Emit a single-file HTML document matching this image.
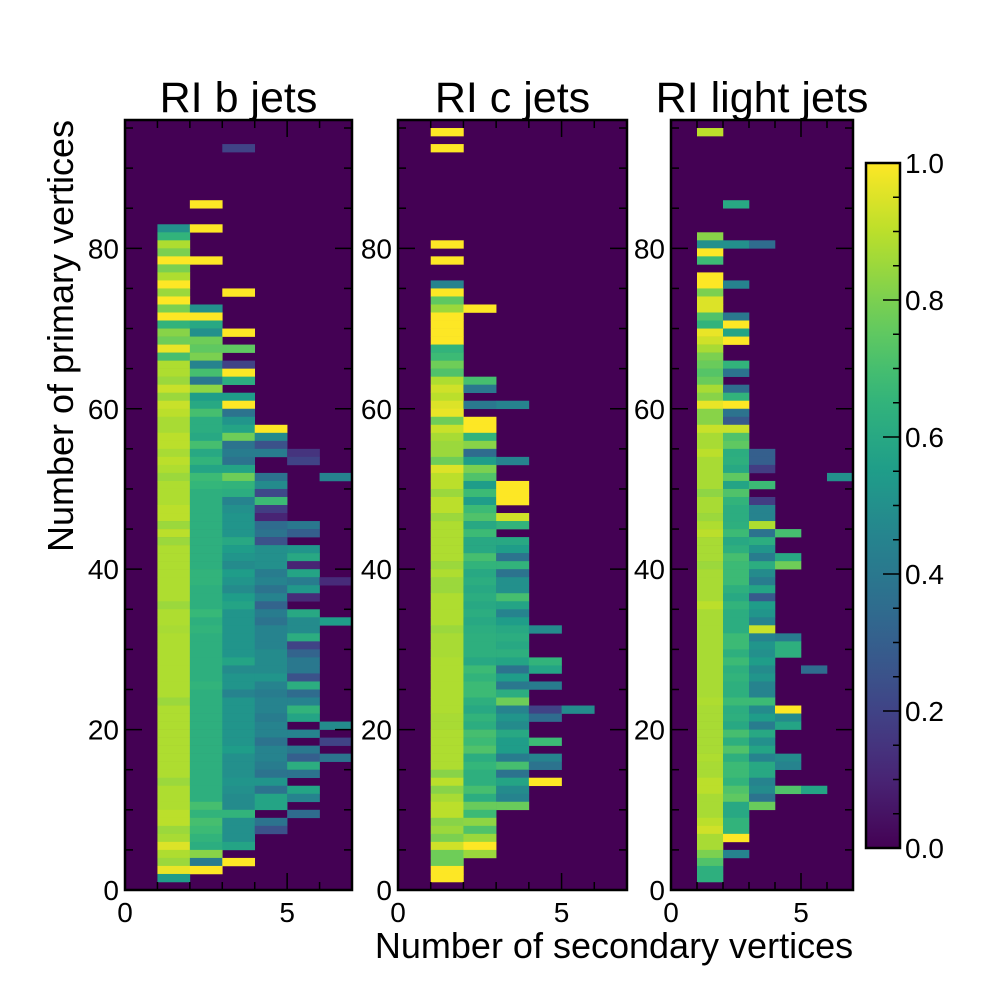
<!DOCTYPE html>
<html><head><meta charset="utf-8"><style>
html,body{margin:0;padding:0;background:#fff;}
svg text{font-family:"Liberation Sans",Arial,sans-serif;fill:#000;}
</style></head><body>
<svg id="chart" width="1000" height="1000" viewBox="0 0 1000 1000" xmlns="http://www.w3.org/2000/svg">
<rect width="1000" height="1000" fill="#fff"/>
<g id="layer"></g>
<text x="0" y="0" transform="translate(73,336) rotate(-90)" text-anchor="middle" font-size="36">Number of primary vertices</text>
<text x="614" y="958" text-anchor="middle" font-size="36">Number of secondary vertices</text>
</svg>
<script>
// ---- data: rows of [primaryVertices, [values for secondary-vertex bins 1..6]] ----
const bRows = [
[92,[0,0,0.2]],[85,[0,1]],[82,[0.5,1]],[81,[0.65]],[80,[0.88]],[79,[0.8]],[78,[1,1]],[77,[0.8]],[76,[0.88]],[75,[1]],
[74,[0.85,0,1]],[73,[1]],[72,[0.8,0.5]],[71,[1,1]],[70,[0.65,0.6]],[69,[0.82,0.5,1]],[68,[0.78,0.78]],[67,[0.97,0.75,0.75]],
[66,[0.7,0.8]],[65,[0.88,0.45,0.2]],[64,[0.88,0.7,1]],[63,[0.85,0.4,0.62]],[62,[0.92,0.83]],[61,[0.85,0.55,0.55]],
[60,[0.92,0.6,1]],[59,[0.9,0.7,0.38]],[58,[0.87,0.62,0.52]],[57,[0.87,0.62,0.58,1]],[56,[0.9,0.6,0.78,0.48]],
[55,[0.9,0.7,0.38,0.25]],[54,[0.87,0.6,0.42,0.42,0.15]],[53,[0.9,0.65,0.38,0,0.2]],[52,[0.88,0.58,0.58]],
[51,[0.85,0.68,0.78,0.38,0,0.45]],[50,[0.88,0.66,0.65,0.48]],[49,[0.88,0.63,0.62,0.22]],[48,[0.88,0.63,0.45,0.68]],
[47,[0.9,0.63,0.5,0.18]],[46,[0.9,0.63,0.52,0.1]],[45,[0.85,0.63,0.52,0.35,0.4]],[44,[0.9,0.63,0.52,0.38,0.3]],
[43,[0.85,0.63,0.6,0.25]],[42,[0.88,0.63,0.55,0.5,0.52]],[41,[0.88,0.63,0.52,0.5,0.6]],[40,[0.88,0.63,0.48,0.5,0.1]],
[39,[0.88,0.65,0.55,0.42,0.58]],[38,[0.88,0.65,0.52,0.45,0.42,0.12]],[37,[0.88,0.63,0.48,0.38,0.53]],
[36,[0.88,0.63,0.55,0.45,0.12]],[35,[0.85,0.63,0.58,0.32]],[34,[0.88,0.67,0.52,0.42,0.6]],[33,[0.88,0.63,0.52,0.38,0.48,0.55]],
[32,[0.87,0.65,0.52,0.45,0.48]],[31,[0.88,0.63,0.52,0.45,0.62]],[30,[0.88,0.63,0.52,0.45,0.2]],[29,[0.88,0.63,0.52,0.48,0.32]],
[28,[0.88,0.63,0.58,0.48,0.4]],[27,[0.88,0.63,0.48,0.48,0.4]],[26,[0.88,0.63,0.52,0.52,0.25]],[25,[0.88,0.65,0.52,0.45,0.62]],
[24,[0.88,0.63,0.45,0.42,0.35]],[23,[0.85,0.63,0.52,0.45,0.45]],[22,[0.88,0.63,0.52,0.45,0.65]],[21,[0.88,0.63,0.52,0.42,0.58]],
[20,[0.88,0.63,0.52,0.45,0,0.48]],[19,[0.88,0.63,0.52,0.45,0.45]],[18,[0.88,0.63,0.52,0.38,0,0.2]],[17,[0.88,0.63,0.55,0.45,0.4]],
[16,[0.88,0.63,0.5,0.45,0.3,0.38]],[15,[0.88,0.63,0.5,0.42,0.62]],[14,[0.88,0.63,0.5,0.38,0.38]],[13,[0.85,0.63,0.52,0.52]],
[12,[0.88,0.63,0.5,0.38,0.58]],[11,[0.88,0.63,0.48,0.58,0.45]],[10,[0.88,0.7,0.48,0.58]],[9,[0.9,0.65,0.65,0,0.35]],
[8,[0.9,0.7,0.5,0.38]],[7,[0.85,0.68,0.5,0.25]],[6,[0.87,0.65,0.5]],[5,[0.95,0.62,0.58]],[4,[0.88,0.82]],[3,[0.85,0.42,1]],
[2,[0.97,1]],[1,[0.55]]
];
const cRows = [
[94,[1]],[92,[1]],[80,[1]],[78,[1]],[75,[0.45]],[74,[1]],[73,[0.75]],[72,[0.85,1]],[71,[1]],[70,[1]],[69,[1]],[68,[1]],
[67,[0.65]],[66,[0.68]],[65,[0.78]],[64,[0.72]],[63,[0.88,0.7]],[62,[0.93,0.4]],[61,[0.9]],[60,[0.95,0.4,0.45]],[59,[0.97]],
[58,[0.78,1]],[57,[0.92,1]],[56,[0.87,0.65]],[55,[0.85,0.82]],[54,[0.85,0.35]],[53,[0.78,0.55,0.45]],[52,[0.95,0.8]],
[51,[0.9,0.72]],[50,[0.9,0.55,1]],[49,[0.85,0.68,1]],[48,[0.9,0.55,1]],[47,[0.9,0.68]],[46,[0.85,0.72,0.93]],
[45,[0.88,0.6,0.65]],[44,[0.88,0.68]],[43,[0.88,0.6,0.6]],[42,[0.88,0.6,0.55]],[41,[0.88,0.7,0.38]],[40,[0.85,0.65,0.65]],
[39,[0.88,0.6,0.38]],[38,[0.85,0.62,0.5]],[37,[0.85,0.6,0.5]],[36,[0.88,0.62,0.7]],[35,[0.88,0.6,0.58]],[34,[0.88,0.62,0.45]],
[33,[0.88,0.6,0.55]],[32,[0.85,0.62,0.6,0.48]],[31,[0.87,0.63,0.62]],[30,[0.87,0.63,0.6]],[29,[0.87,0.63,0.63]],
[28,[0.88,0.6,0.58,0.65]],[27,[0.88,0.68,0.38,0.58]],[26,[0.88,0.65,0.55]],[25,[0.88,0.68,0.4,0.42]],[24,[0.88,0.68,0.62]],
[23,[0.88,0.63,0.78]],[22,[0.88,0.6,0.45,0.2,0.48]],[21,[0.87,0.65,0.52,0.35]],[20,[0.87,0.62,0.48]],[19,[0.88,0.7,0.6]],
[18,[0.88,0.68,0.55,0.68]],[17,[0.88,0.72,0.55]],[16,[0.88,0.62,0.42,0.45]],[15,[0.88,0.66,0.7,0.38]],[14,[0.82,0.63,0.38]],
[13,[0.9,0.63,0.58,1]],[12,[0.82,0.7,0.48]],[11,[0.87,0.62,0.45]],[10,[0.9,0.77,0.77]],[9,[0.9,0.68]],[8,[0.82,0.83]],
[7,[0.85,0.72]],[6,[0.8,0.85]],[5,[0.93,1]],[4,[0.78,0.85]],[3,[0.78]],[2,[1]],[1,[1]]
];
const lRows = [
[94,[0.9]],[85,[0,0.6]],[81,[0.82]],[80,[0.5,0.5,0.35]],[79,[1]],[78,[0.68]],[76,[1]],[75,[1,0.45]],[74,[0.8]],[73,[0.95]],
[72,[0.95]],[71,[0.72,0.4]],[70,[0.65,1]],[69,[0.97,0.58]],[68,[0.93,1]],[67,[0.87]],[66,[0.8]],[65,[0.77,0.65]],
[64,[0.73,0.38]],[63,[0.77]],[62,[0.87,0.35]],[61,[0.82,0.65]],[60,[0.97,1]],[59,[0.82,0.38]],[58,[0.82,0.28]],
[57,[0.92,0.92]],[56,[0.87,0.72]],[55,[0.87,0.75]],[54,[0.9,0.62,0.3]],[53,[0.87,0.63,0.3]],[52,[0.87,0.6,0.18]],
[51,[0.87,0.75,0,0,0,0.5]],[50,[0.87,0.58,0.68]],[49,[0.83,0.72]],[48,[0.87,0.65,0.18]],[47,[0.87,0.62,0.45]],
[46,[0.85,0.62,0.45]],[45,[0.88,0.63,0.88]],[44,[0.9,0.68,0.38,0.7]],[43,[0.87,0.6,0.62]],[42,[0.87,0.63,0.52]],
[41,[0.87,0.7,0.42,0.6]],[40,[0.85,0.68,0.62,0.78]],[39,[0.87,0.68,0.48]],[38,[0.87,0.68,0.42]],[37,[0.87,0.63,0.58]],
[36,[0.87,0.6,0.28]],[35,[0.9,0.65,0.55]],[34,[0.87,0.62,0.52]],[33,[0.87,0.62,0.45]],[32,[0.87,0.62,0.92]],
[31,[0.87,0.68,0.45,0.42]],[30,[0.87,0.68,0.52,0.63]],[29,[0.87,0.63,0.5,0.63]],[28,[0.87,0.68,0.55]],
[27,[0.87,0.63,0.48,0,0.35]],[26,[0.87,0.65,0.52]],[25,[0.87,0.63,0.45]],[24,[0.87,0.63,0.45]],[23,[0.88,0.68,0.68]],
[22,[0.87,0.62,0.48,1]],[21,[0.87,0.63,0.55,0.48]],[20,[0.87,0.6,0.42,0.58]],[19,[0.87,0.7,0.6]],[18,[0.87,0.63,0.5]],
[17,[0.87,0.72,0.58]],[16,[0.88,0.63,0.45,0.48]],[15,[0.87,0.68,0.6,0.45]],[14,[0.87,0.68,0.6]],[13,[0.9,0.65,0.45]],
[12,[0.9,0.72,0.48,0.72,0.58]],[11,[0.87,0.75,0.38]],[10,[0.87,0.6,0.77]],[9,[0.87,0.6]],[8,[0.9,0.65]],[7,[0.93,0.65]],
[6,[0.87,1]],[5,[0.87]],[4,[0.8,0.45]],[3,[0.72]],[2,[0.63]],[1,[0.63]]
];
const panelTitles = ["RI b jets","RI c jets","RI light jets"];
const xTicks = [0,5];
const yTicks = [0,20,40,60,80];
const cbTicks = [0,0.2,0.4,0.6,0.8,1.0];
const cbTickLabels = ["0.0","0.2","0.4","0.6","0.8","1.0"];

const NS="http://www.w3.org/2000/svg";
const layer=document.getElementById('layer');
function mk(tag,attrs,parent){const e=document.createElementNS(NS,tag);for(const k in attrs)e.setAttribute(k,attrs[k]);(parent||layer).appendChild(e);return e;}
const VIR=[[68,1,84],[72,40,120],[62,74,137],[49,104,142],[38,130,142],[31,158,137],[53,183,121],[109,205,89],[180,222,44],[253,231,37]];
function viridis(v){v=Math.max(0,Math.min(1,v));const p=v*(VIR.length-1);const i=Math.min(Math.floor(p),VIR.length-2);const f=p-i;
 const c=VIR[i].map((a,j)=>Math.round(a+(VIR[i+1][j]-a)*f));return `rgb(${c[0]},${c[1]},${c[2]})`;}

const Y0=890,Y1=120,YMAX=96,XMAX=7;
function ys(v){return Y0-(v/YMAX)*(Y0-Y1);}
const panels=[{x0:125,x1:352,rows:bRows,name:'b'},{x0:398,x1:627,rows:cRows,name:'c'},{x0:671,x1:853,rows:lRows,name:'light'}];
panels.forEach((p,pi)=>{
 const xs=v=>p.x0+(v/XMAX)*(p.x1-p.x0);
 const g=mk('g',{});
 
 
 const bg=mk('rect',{x:p.x0,y:Y1,width:p.x1-p.x0,height:Y0-Y1,fill:viridis(0)},g);
 
 
 p.rows.forEach(r=>{const y=r[0];r[1].forEach((v,i)=>{if(!v)return;const xb=i+1;
  const c=mk('rect',{x:xs(xb),y:ys(y+1),width:xs(xb+1)-xs(xb)+0.3,height:ys(y)-ys(y+1)+0.3,fill:viridis(v)},g);
  
  
 });});
 for(let t=0;t<=XMAX;t++){const L=(t%5===0)?17:8;const x=xs(t);
  mk('line',{x1:x,x2:x,y1:Y0,y2:Y0-L,stroke:'#000','stroke-width':1.5},g);
  mk('line',{x1:x,x2:x,y1:Y1,y2:Y1+L,stroke:'#000','stroke-width':1.5},g);}
 for(let t=0;t<=95;t+=5){const L=(t%20===0)?17:8;const y=ys(t);
  mk('line',{x1:p.x0,x2:p.x0+L,y1:y,y2:y,stroke:'#000','stroke-width':1.5},g);
  mk('line',{x1:p.x1,x2:p.x1-L,y1:y,y2:y,stroke:'#000','stroke-width':1.5},g);}
 const fr=mk('rect',{x:p.x0,y:Y1,width:p.x1-p.x0,height:Y0-Y1,fill:'none',stroke:'#000','stroke-width':2.5},g);
 
 
 xTicks.forEach(t=>{const tx=mk('text',{x:xs(t),y:922,'text-anchor':'middle','font-size':28},g);tx.textContent=t;
  
  });
 yTicks.forEach(t=>{const tx=mk('text',{x:p.x0-6,y:ys(t)+10,'text-anchor':'end','font-size':28},g);tx.textContent=t;
  
  });
 const ti=mk('text',{x:(p.x0+p.x1)/2,y:112,'text-anchor':'middle','font-size':43},g);ti.textContent=panelTitles[pi];
 
 
});
const CBX=866,CBW=34,CBT=163,CBB=848;
const cb=mk('g',{});


const defs=mk('defs',{},cb);const lg=mk('linearGradient',{id:'vg',x1:0,y1:1,x2:0,y2:0},defs);
for(let i=0;i<=20;i++){mk('stop',{offset:i/20,'stop-color':viridis(i/20)},lg);}
mk('rect',{x:CBX,y:CBT,width:CBW,height:CBB-CBT,fill:'url(#vg)'},cb);
const cbs=v=>CBB-v*(CBB-CBT);
for(let i=0;i<=20;i++){const v=i/20;const L=(i%4===0)?17:7;
 mk('line',{x1:CBX+CBW,x2:CBX+CBW-L,y1:cbs(v),y2:cbs(v),stroke:'#000','stroke-width':1.5},cb);}
mk('rect',{x:CBX,y:CBT,width:CBW,height:CBB-CBT,fill:'none',stroke:'#000','stroke-width':2.5},cb);
cbTicks.forEach((t,i)=>{const tx=mk('text',{x:905,y:cbs(t)+10,'font-size':28},cb);tx.textContent=cbTickLabels[i];
 
 });
</script>
</body></html>
